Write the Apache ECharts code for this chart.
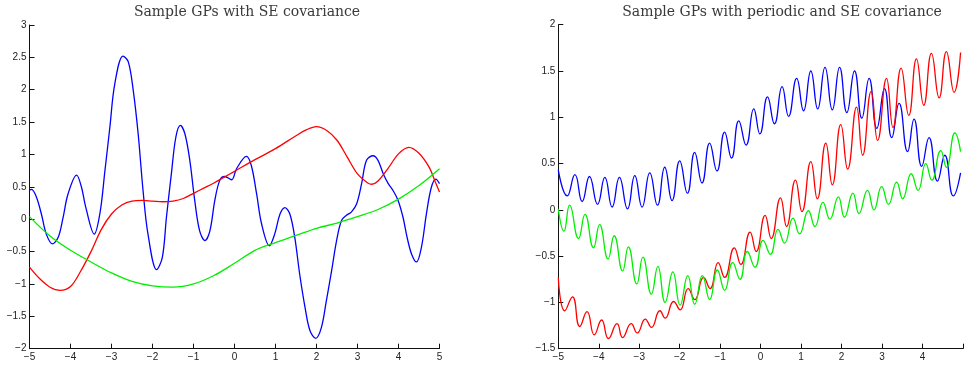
<!DOCTYPE html>
<html>
<head>
<meta charset="utf-8">
<script src="https://cdn.jsdelivr.net/npm/echarts@6/dist/echarts.min.js"></script>
<style>
  html, body { margin: 0; padding: 0; background: #fff; }
  #echarts { width: 966px; height: 365px; }
</style>
</head>
<body>
<div id="echarts"></div>
<script>
// left panel: SE covariance samples, [x, y]
var seBlue = [[-5.0, 0.45], [-4.95, 0.46], [-4.83, 0.34], [-4.71, 0.08], [-4.59, -0.23], [-4.44, -0.38], [-4.30, -0.28], [-4.18, 0.03], [-4.06, 0.39], [-3.85, 0.68], [-3.73, 0.49], [-3.63, 0.19], [-3.42, -0.23], [-3.28, 0.10], [-3.16, 0.75], [-3.04, 1.42], [-2.92, 2.09], [-2.72, 2.52], [-2.59, 2.43], [-2.47, 1.99], [-2.35, 1.32], [-2.23, 0.44], [-2.11, -0.23], [-1.90, -0.78], [-1.76, -0.59], [-1.66, 0.03], [-1.54, 0.70], [-1.43, 1.27], [-1.32, 1.45], [-1.21, 1.32], [-1.09, 0.91], [-0.97, 0.29], [-0.85, -0.18], [-0.72, -0.33], [-0.60, -0.18], [-0.48, 0.29], [-0.36, 0.60], [-0.24, 0.66], [-0.07, 0.61], [0.05, 0.78], [0.29, 0.97], [0.41, 0.83], [0.54, 0.39], [0.66, -0.07], [0.85, -0.41], [0.98, -0.23], [1.11, 0.08], [1.23, 0.18], [1.35, 0.08], [1.47, -0.28], [1.59, -0.85], [1.72, -1.36], [1.84, -1.72], [1.98, -1.84], [2.12, -1.67], [2.24, -1.26], [2.37, -0.79], [2.49, -0.33], [2.61, -0.02], [2.73, 0.06], [2.85, 0.11], [2.98, 0.24], [3.10, 0.55], [3.22, 0.91], [3.38, 0.98], [3.50, 0.91], [3.63, 0.70], [3.75, 0.55], [3.87, 0.44], [3.99, 0.29], [4.11, 0.03], [4.21, -0.28], [4.32, -0.54], [4.44, -0.66], [4.56, -0.43], [4.68, 0.08], [4.80, 0.49], [4.91, 0.62], [5.0, 0.55]];
var seRed = [[-5, -0.74], [-4.75, -0.92], [-4.5, -1.05], [-4.25, -1.10], [-4, -1.04], [-3.75, -0.80], [-3.5, -0.50], [-3.25, -0.16], [-3, 0.08], [-2.75, 0.22], [-2.5, 0.28], [-2.25, 0.29], [-2, 0.28], [-1.75, 0.27], [-1.5, 0.28], [-1.25, 0.32], [-1, 0.40], [-0.75, 0.48], [-0.5, 0.56], [-0.25, 0.65], [0, 0.74], [0.5, 0.92], [1, 1.09], [1.5, 1.29], [1.75, 1.38], [2, 1.43], [2.25, 1.37], [2.5, 1.22], [2.75, 0.96], [3, 0.70], [3.25, 0.56], [3.35, 0.54], [3.5, 0.59], [3.75, 0.79], [4, 1.01], [4.25, 1.11], [4.5, 1.02], [4.75, 0.80], [4.9, 0.57], [5, 0.42]];
var seGreen = [[-5, 0.04], [-4.5, -0.26], [-4, -0.48], [-3.5, -0.66], [-3, -0.83], [-2.5, -0.96], [-2, -1.03], [-1.5, -1.05], [-1, -1.0], [-0.5, -0.87], [0, -0.68], [0.5, -0.48], [1, -0.36], [1.5, -0.25], [2, -0.14], [2.5, -0.06], [3, 0.04], [3.5, 0.15], [4, 0.31], [4.5, 0.52], [5, 0.78]];

// right panel: periodic x SE samples (peaks and troughs), [x, y]
var perBlue = [[-5.0, 0.43], [-4.78, 0.15], [-4.59, 0.38], [-4.41, 0.09], [-4.23, 0.36], [-4.03, 0.06], [-3.85, 0.35], [-3.67, 0.03], [-3.49, 0.35], [-3.29, 0.01], [-3.11, 0.37], [-2.93, 0.03], [-2.74, 0.40], [-2.55, 0.05], [-2.37, 0.46], [-2.19, 0.10], [-2.0, 0.53], [-1.81, 0.18], [-1.63, 0.62], [-1.45, 0.29], [-1.26, 0.72], [-1.08, 0.42], [-0.89, 0.84], [-0.72, 0.56], [-0.54, 0.96], [-0.36, 0.70], [-0.17, 1.09], [-0.02, 0.82], [0.17, 1.22], [0.34, 0.93], [0.53, 1.33], [0.69, 1.01], [0.89, 1.42], [1.06, 1.07], [1.24, 1.50], [1.41, 1.09], [1.59, 1.54], [1.77, 1.08], [1.95, 1.54], [2.13, 1.05], [2.32, 1.50], [2.50, 0.99], [2.68, 1.42], [2.87, 0.88], [3.06, 1.31], [3.24, 0.78], [3.42, 1.15], [3.63, 0.63], [3.79, 0.98], [3.98, 0.47], [4.16, 0.78], [4.37, 0.31], [4.55, 0.59], [4.76, 0.15], [4.94, 0.40]];
var perRed = [[-5.0, -0.73], [-4.84, -1.09], [-4.65, -0.94], [-4.47, -1.26], [-4.29, -1.10], [-4.11, -1.35], [-3.93, -1.19], [-3.76, -1.39], [-3.55, -1.23], [-3.41, -1.38], [-3.20, -1.23], [-3.05, -1.33], [-2.85, -1.18], [-2.70, -1.27], [-2.49, -1.09], [-2.36, -1.17], [-2.15, -0.99], [-1.99, -1.08], [-1.79, -0.85], [-1.63, -0.97], [-1.41, -0.73], [-1.25, -0.85], [-1.05, -0.57], [-0.89, -0.73], [-0.65, -0.41], [-0.49, -0.59], [-0.26, -0.24], [-0.11, -0.45], [0.11, -0.06], [0.26, -0.31], [0.49, 0.13], [0.64, -0.18], [0.86, 0.32], [1.02, -0.02], [1.24, 0.52], [1.40, 0.12], [1.61, 0.72], [1.77, 0.27], [1.98, 0.92], [2.15, 0.44], [2.37, 1.11], [2.52, 0.59], [2.73, 1.28], [2.89, 0.75], [3.11, 1.42], [3.27, 0.89], [3.47, 1.53], [3.66, 1.02], [3.85, 1.63], [4.03, 1.13], [4.22, 1.69], [4.41, 1.21], [4.59, 1.71], [4.78, 1.27], [4.94, 1.70]];
var perGreen = [[-5.0, 0.01], [-4.86, -0.23], [-4.72, 0.05], [-4.50, -0.31], [-4.34, -0.05], [-4.13, -0.41], [-3.98, -0.16], [-3.77, -0.53], [-3.62, -0.28], [-3.41, -0.66], [-3.27, -0.40], [-3.06, -0.80], [-2.91, -0.51], [-2.70, -0.91], [-2.54, -0.61], [-2.36, -1.00], [-2.17, -0.67], [-1.99, -1.03], [-1.80, -0.71], [-1.63, -1.02], [-1.44, -0.71], [-1.26, -0.97], [-1.07, -0.65], [-0.89, -0.87], [-0.69, -0.57], [-0.51, -0.75], [-0.33, -0.45], [-0.14, -0.62], [0.06, -0.33], [0.24, -0.48], [0.43, -0.21], [0.59, -0.36], [0.80, -0.09], [0.96, -0.26], [1.18, -0.01], [1.34, -0.18], [1.54, 0.08], [1.71, -0.10], [1.92, 0.14], [2.07, -0.08], [2.28, 0.18], [2.43, -0.04], [2.64, 0.21], [2.80, 0.00], [2.99, 0.25], [3.16, 0.06], [3.36, 0.30], [3.51, 0.12], [3.72, 0.39], [3.89, 0.21], [4.08, 0.50], [4.23, 0.32], [4.45, 0.64], [4.59, 0.46], [4.80, 0.83], [4.94, 0.63]];

var titles = ['Sample GPs with SE covariance', 'Sample GPs with periodic and SE covariance'];

(function () {
    var chartDom = document.getElementById('echarts');
    var myChart = echarts.init(chartDom, null, { renderer: 'canvas' });

    var fmt = function (v) {
        return String(v).replace('-', '\u2212');
    };
    var axisText = { fontFamily: 'Liberation Sans', fontSize: 10, color: '#222' };
    var titleText = { fontFamily: 'DejaVu Serif', fontSize: 14, fontWeight: 'normal', color: '#3a3a3a' };

    function xAxis(idx, hideLast) {
        return {
            gridIndex: idx,
            type: 'value',
            min: -5,
            max: 5,
            interval: 1,
            axisLine: { onZero: false, lineStyle: { color: '#111', width: 1 } },
            axisTick: { inside: true, length: 5, lineStyle: { color: '#111' } },
            axisLabel: Object.assign({
                margin: 4,
                formatter: function (v) { return hideLast && v === 5 ? '' : fmt(v); }
            }, axisText),
            splitLine: { show: false }
        };
    }
    function yAxis(idx, min, max) {
        return {
            gridIndex: idx,
            type: 'value',
            min: min,
            max: max,
            interval: 0.5,
            axisLine: { show: true, onZero: false, lineStyle: { color: '#111', width: 1 } },
            axisTick: { show: true, inside: true, length: 5, lineStyle: { color: '#111' } },
            axisLabel: Object.assign({ margin: 3, formatter: fmt }, axisText),
            splitLine: { show: false }
        };
    }
    function line(data, color, idx, smooth) {
        return {
            type: 'line',
            xAxisIndex: idx,
            yAxisIndex: idx,
            data: data,
            smooth: smooth,
            symbol: 'none',
            lineStyle: { color: color, width: 1.3 },
            animation: false
        };
    }

    const option = {
        backgroundColor: '#fff',
        title: [
            { text: titles[0], left: 247, top: 5, textAlign: 'center', padding: 0, textStyle: titleText },
            { text: titles[1], left: 782, top: 5, textAlign: 'center', padding: 0, textStyle: titleText }
        ],
        grid: [
            { left: 29.5, right: 526.5, top: 25, bottom: 16.3 },
            { left: 558.3, right: -2.3, top: 24.7, bottom: 16.3 }
        ],
        xAxis: [xAxis(0, false), xAxis(1, true)],
        yAxis: [yAxis(0, -2, 3), yAxis(1, -1.5, 2)],
        series: [
            line(seBlue, '#0000ff', 0, 0.35),
            line(seRed, '#ff0000', 0, 0.35),
            line(seGreen, '#00ee00', 0, 0.35),
            line(perBlue, '#0000ff', 1, 0.5),
            line(perRed, '#ff0000', 1, 0.5),
            line(perGreen, '#00ee00', 1, 0.5)
        ],
        animation: false
    };
    myChart.setOption(option);
})();
</script>
</body>
</html>
